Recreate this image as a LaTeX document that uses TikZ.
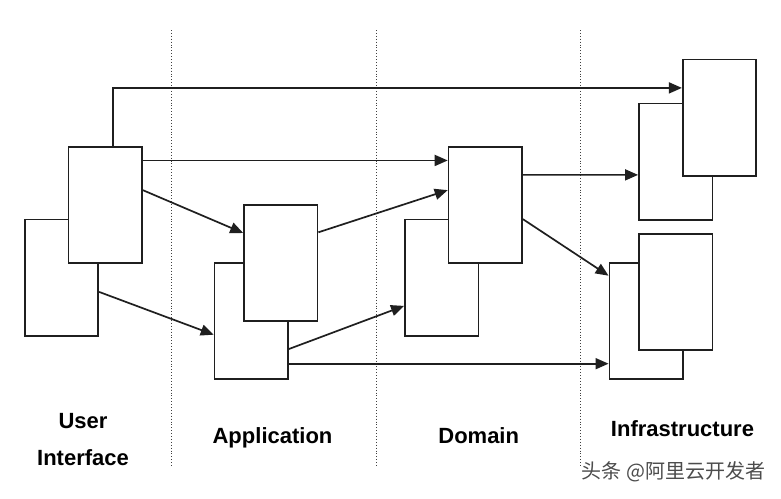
\documentclass[tikz,border=0pt]{standalone}
\usepackage{fontspec}
\setmainfont{Liberation Sans}
\newfontfamily\cjk{Noto Sans CJK SC}
\usetikzlibrary{arrows.meta}
\tikzset{
  box/.style={draw=black!88, line width=1.7pt, fill=white, rectangle, minimum width=73.5pt, minimum height=116.3pt, inner sep=0pt},
  conn/.style={draw=black!88, line width=1.7pt},
  arr/.style={conn, -{Triangle[length=13pt,width=11pt]}},
  sep/.style={draw=black!75, line width=0.9pt, dotted},
  lbl/.style={font=\fontsize{22}{26}\selectfont\bfseries, anchor=base, inner sep=0pt},
  wm/.style={font=\cjk\fontsize{20}{24}\selectfont, text=black!70, inner sep=0pt}
}
\begin{document}
\begin{tikzpicture}[x=1pt,y=-1pt]
\useasboundingbox[fill=white] (0,0) rectangle (781,498);
% separators
\coordinate (s1t) at (171.3,30); \coordinate (s1b) at (171.3,466.7);
\coordinate (s2t) at (376,30); \coordinate (s2b) at (376,466.7);
\coordinate (s3t) at (580.7,30); \coordinate (s3b) at (580.7,466.7);
\draw[sep] (s1t) -- (s1b);
\draw[sep] (s2t) -- (s2b);
\draw[sep] (s3t) -- (s3b);
% back boxes
\node[box] (uib) at (61.5,277.5) {};
\node[box] (apb) at (251.35,321) {};
\node[box] (dmb) at (441.65,277.5) {};
\node[box] (itb) at (675.65,161.5) {};
\node[box] (ibb) at (646.15,321) {};
% front boxes
\node[box] (uif) at (105.25,204.85) {};
\node[box] (apf) at (280.8,263) {};
\node[box] (dmf) at (485.3,204.85) {};
\node[box] (itf) at (719.5,117.5) {};
\node[box] (ibf) at (675.65,292) {};
% connectors
\draw[arr] ([xshift=7.45pt]uif.north) |- ([yshift=-29.4pt]itf.north west);
\draw[arr] ([yshift=-14.6pt]uif.north east) -- ([yshift=-14.6pt]dmf.north west);
\draw[arr] ([yshift=-44.3pt]uif.north east) -- ([yshift=-29pt]apf.north west);
\draw[arr] ([yshift=-73.4pt]uib.north east) -- ([yshift=-72.7pt]apb.north west);
\draw[arr] ([yshift=-28.3pt]apf.north east) -- ([yshift=-44.3pt]dmf.north west);
\draw[arr] ([yshift=-87pt]apb.north east) -- ([yshift=-87.4pt]dmb.north west);
\draw[arr] ([yshift=-101.7pt]apb.north east) -- ([yshift=-101.7pt]ibb.north west);
\draw[arr] ([yshift=-29pt]dmf.north east) -- ([yshift=-72.4pt]itb.north west);
\draw[arr] ([yshift=-73.3pt]dmf.north east) -- ([yshift=-13.7pt]ibb.north west);
% labels
\node[lbl] (l1) at (83,428.3) {User};
\node[lbl] (l2) at (83,465) {Interface};
\node[lbl] (l3) at (272.5,443.3) {Application};
\node[lbl] (l4) at (478.7,443.3) {Domain};
\node[lbl] (l5) at (682.5,436) {Infrastructure};
\node[wm] (w) at (673.6,472) {头条 @阿里云开发者};
\end{tikzpicture}
\end{document}
